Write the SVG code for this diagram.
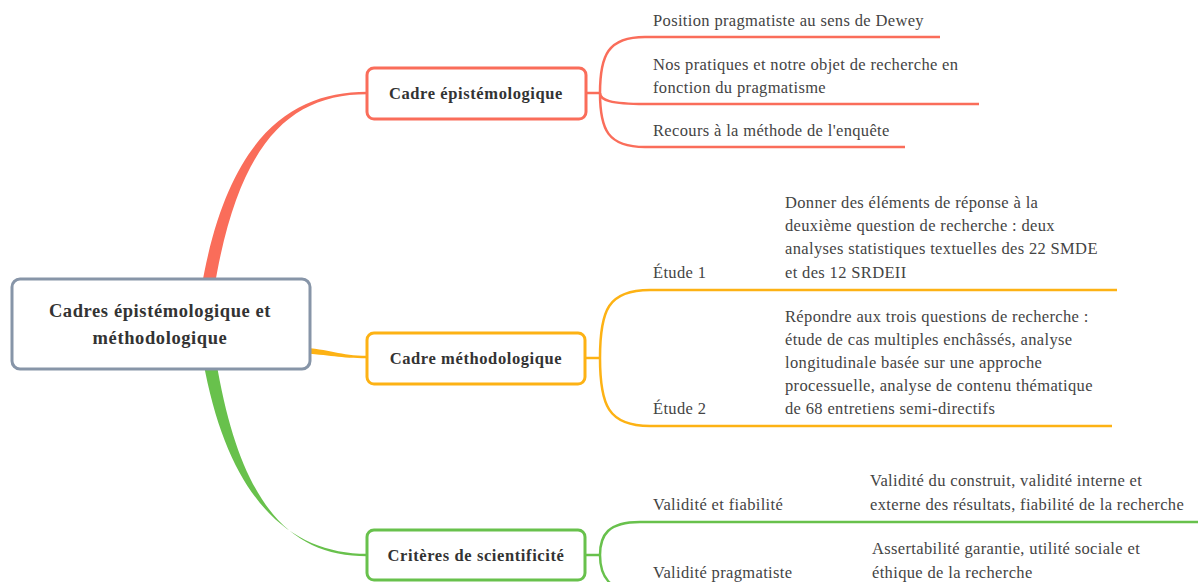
<svg xmlns="http://www.w3.org/2000/svg" width="1198" height="582" viewBox="0 0 1198 582">
<style>
.node rect{fill:#fff;stroke-width:3}
.nt{font-family:'Liberation Serif','Tinos','DejaVu Serif',serif;font-weight:bold;fill:#333;text-anchor:middle;letter-spacing:0.6px}
.lt{font-family:'Liberation Serif','Tinos','DejaVu Serif',serif;fill:#444;font-size:16.5px;letter-spacing:0.35px}
.red{stroke:#FA6D5A;fill:none;stroke-width:2.5}
.yel{stroke:#FDB214;fill:none;stroke-width:2.5}
.grn{stroke:#68C14C;fill:none;stroke-width:2.5}
</style>
<rect width="1198" height="582" fill="#fff"/>
<g id="connectors">
  <path d="M201,290 C227,138 290,91.8 367,91.8 L367,94.2 C290,94.2 238,142 214,290 Z" fill="#FA6D5A"/>
  <path d="M300,347.5 C330,349 340,355.8 367,355.8 L367,358.2 C340,358.2 330,355 300,353 Z" fill="#FDB214"/>
  <path d="M203,360 C228,500 290,553.8 367,553.8 L367,556.2 C290,556.2 240,505 216,360 Z" fill="#68C14C"/>
  <path class="red" d="M586,93 H600"/>
  <path class="red" d="M600,93 C600,55 608,37 645,37 H940"/>
  <path class="red" d="M600,93 C600,100 610,104 645,104 H979"/>
  <path class="red" d="M600,93 C600,130 608,147 645,147 H905"/>
  <path class="yel" d="M585,358 H600"/>
  <path class="yel" d="M600,358 C600,310 608,290 650,290 H1117"/>
  <path class="yel" d="M600,358 C600,405 608,426 650,426 H1112"/>
  <path class="grn" d="M585,555 H600"/>
  <path class="grn" d="M600,555 C600,535 608,522 640,522 H1198"/>
  <path class="grn" d="M600,555 C600,575 608,592 640,592"/>
</g>
<g id="root" class="node">
  <rect x="12" y="279" width="298" height="90" rx="8" stroke="#8795A8"/>
  <text class="nt" x="160" y="317" font-size="18.5">Cadres épistémologique et</text>
  <text class="nt" x="160" y="344" font-size="18.5">méthodologique</text>
</g>
<g id="n-epist" class="node">
  <rect x="367" y="68" width="219" height="51" rx="7" stroke="#FA6D5A"/>
  <text class="nt" x="476" y="99" font-size="16.5">Cadre épistémologique</text>
</g>
<g id="n-metho" class="node">
  <rect x="367" y="333" width="218" height="51" rx="7" stroke="#FDB214"/>
  <text class="nt" x="476" y="364" font-size="16.5">Cadre méthodologique</text>
</g>
<g id="n-crit" class="node">
  <rect x="367" y="530" width="218" height="50" rx="7" stroke="#68C14C"/>
  <text class="nt" x="476" y="561" font-size="16.5">Critères de scientificité</text>
</g>
<g id="e1"><text class="lt" x="653" y="26">Position pragmatiste au sens de Dewey</text></g>
<g id="e2"><text class="lt" x="653" y="70">Nos pratiques et notre objet de recherche en</text><text class="lt" x="653" y="93">fonction du pragmatisme</text></g>
<g id="e3"><text class="lt" x="653" y="136">Recours à la méthode de l'enquête</text></g>
<g id="m1"><text class="lt" x="653" y="278">Étude 1</text></g>
<g id="m1d"><text class="lt" x="785" y="208">Donner des éléments de réponse à la</text><text class="lt" x="785" y="231">deuxième question de recherche : deux</text><text class="lt" x="785" y="254">analyses statistiques textuelles des 22 SMDE</text><text class="lt" x="785" y="278">et des 12 SRDEII</text></g>
<g id="m2"><text class="lt" x="653" y="414">Étude 2</text></g>
<g id="m2d"><text class="lt" x="785" y="322">Répondre aux trois questions de recherche :</text><text class="lt" x="785" y="345">étude de cas multiples enchâssés, analyse</text><text class="lt" x="785" y="368">longitudinale basée sur une approche</text><text class="lt" x="785" y="391">processuelle, analyse de contenu thématique</text><text class="lt" x="785" y="414">de 68 entretiens semi-directifs</text></g>
<g id="c1"><text class="lt" x="653" y="510">Validité et fiabilité</text></g>
<g id="c1d"><text class="lt" x="870" y="486">Validité du construit, validité interne et</text><text class="lt" x="870" y="510">externe des résultats, fiabilité de la recherche</text></g>
<g id="c2"><text class="lt" x="653" y="578">Validité pragmatiste</text></g>
<g id="c2d"><text class="lt" x="872" y="554">Assertabilité garantie, utilité sociale et</text><text class="lt" x="872" y="578">éthique de la recherche</text></g>
</svg>
